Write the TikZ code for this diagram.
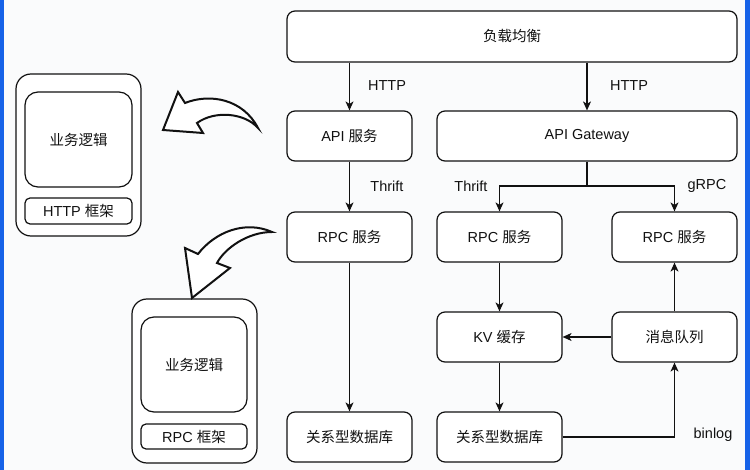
\documentclass[tikz,border=0pt]{standalone}
\usepackage{fontspec}
\setmainfont{Liberation Sans}
\newfontfamily\cjk{Noto Sans CJK SC}
\usetikzlibrary{arrows.meta}
\newcommand\zh[1]{{\cjk #1}}
\definecolor{bgc}{RGB}{250,251,252}
\definecolor{barblue}{RGB}{22,98,232}
\definecolor{ink}{RGB}{17,17,17}
\begin{document}
\begin{tikzpicture}[x=1pt,y=-1pt,
  txt/.style={font=\fontsize{14.5}{17}\selectfont, text=ink},
  box/.style={txt, draw=ink, line width=1.2pt, rounded corners=8pt, fill=white, minimum width=125pt, minimum height=50pt, inner sep=0pt},
  conn/.style={draw=ink, line width=1.1pt, -{Stealth[length=9pt,width=8pt,inset=2.5pt]}},
  lab/.style={txt, inner sep=0pt},
  frame/.style={draw=ink, line width=1.2pt, fill=white},
  curvearrow/.style={draw=ink, line width=2pt, fill=white, line join=miter}
]
\useasboundingbox (0,0) rectangle (750,470);
\fill[bgc] (0,0) rectangle (750,470);
\fill[barblue] (0,0) rectangle (4,470);
\fill[barblue] (745,0) rectangle (750,470);

% main boxes
\node[box, minimum width=450pt, minimum height=51pt] (lb) at (512,36.5) {\zh{负载均衡}};
\node[box] (api) at (349.5,136) {API \zh{服务}};
\node[box, minimum width=300pt] (gw) at (587,136) {API Gateway};
\node[box] (rpc1) at (349.5,237) {RPC \zh{服务}};
\node[box] (rpc2) at (499.5,237) {RPC \zh{服务}};
\node[box] (rpc3) at (674.5,237) {RPC \zh{服务}};
\node[box] (kv) at (499.5,337) {KV \zh{缓存}};
\node[box] (mq) at (674.5,337) {\zh{消息队列}};
\node[box] (db1) at (349.5,437) {\zh{关系型数据库}};
\node[box] (db2) at (499.5,437) {\zh{关系型数据库}};

% connectors
\draw[conn] (api.north |- lb.south) -- (api.north);
\draw[conn] (gw.north |- lb.south) -- (gw.north);
\draw[conn] (api) -- (rpc1);
\draw[conn] (rpc1) -- (db1);
\coordinate (split) at (587,186);
\draw[conn] (gw.south) -- (split) -| (rpc2.north);
\draw[conn] (split) -| (rpc3.north);
\draw[conn] (rpc2) -- (kv);
\draw[conn] (kv) -- (db2);
\draw[conn] (mq) -- (kv);
\draw[conn] (mq) -- (rpc3);
\draw[conn] (db2.east) -| (mq.south);

% labels
\node[lab] (l1) at (387,86) {HTTP};
\node[lab] (l2) at (629,86) {HTTP};
\node[lab] (l3) at (387,186) {Thrift};
\node[lab] (l4) at (471,186) {Thrift};
\node[lab] (l5) at (707,186) {gRPC};
\node[lab] (l6) at (713,435) {binlog};

% left frames
\draw[frame, rounded corners=15pt] (16,74) rectangle (141,236);
\node[box, minimum width=107pt, minimum height=95pt, rounded corners=13pt] (biz1) at (78.5,139.5) {\zh{业务逻辑}};
\node[box, minimum width=107pt, minimum height=26pt, rounded corners=5pt] (fw1) at (78.5,211) {HTTP \zh{框架}};

\draw[frame, rounded corners=15pt] (132,299) rectangle (257,463);
\node[box, minimum width=106pt, minimum height=95pt, rounded corners=13pt] (biz2) at (194,364.5) {\zh{业务逻辑}};
\node[box, minimum width=106pt, minimum height=25pt, rounded corners=5pt] (fw2) at (194,436.5) {RPC \zh{框架}};

% curved arrows
\draw[curvearrow] (163,130) -- (178,92) -- (185,103)
  .. controls (210,93) and (243,99) .. (258,128)
  .. controls (245,113) and (215,110) .. (197,123)
  -- (203,133) -- cycle;
\draw[curvearrow] (272,232)
  .. controls (245,220) and (215,232) .. (198,254)
  -- (185,248) -- (192,298) -- (230,268) -- (217,263)
  .. controls (225,248) and (248,232) .. cycle;
\end{tikzpicture}
\end{document}
